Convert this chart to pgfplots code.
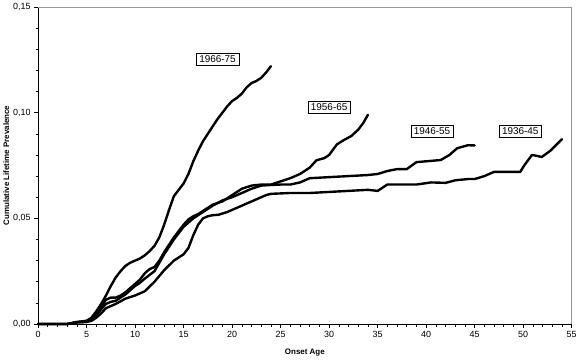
\documentclass[border=0pt]{standalone}
\usepackage{pgfplots}
\pgfplotsset{compat=1.18}
\usepackage{fontspec}
\setmainfont{Liberation Sans}
\begin{document}
\begin{tikzpicture}
\tikzset{curve/.style={black, line width=2.4pt, line join=round, line cap=round}}
\begin{axis}[
  name=main,
  scale only axis,
  width=537pt, height=319pt,
  xmin=0, xmax=55, ymin=0, ymax=0.15,
  xtick={0,5,...,55},
  ytick={0,0.05,0.10,0.15},
  minor x tick num=4,
  minor y tick num=4,
  tick align=outside,
  tick pos=left,
  major tick length=4pt,
  minor tick length=2.5pt,
  tick style={black, line width=0.6pt},
  axis line style={draw=none},
  /pgf/number format/.cd, use comma, fixed, assume math mode=true,
  /pgfplots/.cd,
  yticklabel={\pgfmathprintnumber[fixed, fixed zerofill, precision=2, use comma]{\tick}},
  ticklabel style={font=\fontsize{9}{10}\selectfont},
  xlabel={\textbf{Onset Age}},
  ylabel={\textbf{Cumulative Lifetime Prevalence}},
  label style={font=\fontsize{8}{9}\selectfont},
  xlabel style={at={(axis description cs:0.5,0)}, anchor=center, yshift=-29pt},
  ylabel style={at={(axis description cs:0,0.5)}, anchor=center, rotate=0, yshift=32pt},
  clip=false,
]
\draw[black, line width=0.7pt] (rel axis cs:0,1) -- (rel axis cs:0,0) -- (rel axis cs:1,0);
\draw[gray!80, line width=0.7pt] (rel axis cs:0,1) -- (rel axis cs:1,1) -- (rel axis cs:1,0);
% 1966-75
\addplot[curve] coordinates {
(0,0) (3,0) (4,0.0008) (5,0.0015) (5.5,0.003) (6,0.006) (6.5,0.0095) (7,0.0135) (7.5,0.018) (8,0.022) (8.5,0.025) (9,0.0275) (9.5,0.029) (10,0.030) (10.5,0.031) (11,0.0325) (11.5,0.0345) (12,0.037) (12.5,0.041) (13,0.047) (13.5,0.054) (14,0.0605) (14.5,0.0635) (15,0.0665) (15.5,0.071) (16,0.077) (16.5,0.082) (17,0.0865) (17.5,0.090) (18,0.0935) (18.5,0.097) (19,0.100) (19.5,0.103) (20,0.1055) (20.5,0.107) (21,0.109) (21.5,0.112) (22,0.114) (22.5,0.115) (23,0.1165) (23.5,0.119) (24,0.122)
};
% 1956-65
\addplot[curve] coordinates {
(0,0) (3,0) (4,0.0008) (5,0.001) (5.5,0.002) (6,0.005) (6.5,0.008) (7,0.0115) (7.5,0.0125) (8,0.0125) (8.5,0.0135) (9,0.015) (9.5,0.017) (10,0.019) (10.5,0.021) (11,0.024) (11.5,0.026) (12,0.027) (12.5,0.030) (13,0.034) (13.5,0.0375) (14,0.041) (14.5,0.044) (15,0.047) (15.5,0.0495) (16,0.051) (16.5,0.052) (17,0.0535) (17.5,0.055) (18,0.0565) (19,0.058) (20,0.061) (21,0.064) (22,0.0655) (23,0.066) (24,0.066) (25,0.0675) (26,0.069) (27,0.071) (28,0.074) (28.7,0.0775) (29.5,0.0785) (30,0.080) (30.8,0.085) (31.5,0.087) (32.3,0.089) (33,0.092) (33.5,0.095) (34,0.099)
};
% 1946-55
\addplot[curve] coordinates {
(0,0) (3,0) (4,0.001) (5,0.0015) (5.5,0.002) (6,0.004) (6.5,0.007) (7,0.0095) (7.5,0.0105) (8,0.011) (9,0.014) (10,0.018) (10.5,0.0195) (11,0.0215) (12,0.025) (13,0.033) (14,0.040) (14.5,0.043) (15,0.046) (15.5,0.048) (16,0.050) (17,0.053) (18,0.056) (19,0.0585) (20,0.060) (21,0.062) (22,0.064) (23,0.0655) (24,0.0658) (25,0.066) (26,0.066) (27,0.067) (28,0.069) (30,0.0695) (32,0.070) (34,0.0705) (35,0.071) (36,0.0724) (37,0.0733) (38,0.0733) (39,0.0766) (40,0.077) (41.5,0.0776) (42.4,0.080) (43.2,0.0832) (44.3,0.0846) (45,0.0845)
};
% 1936-45
\addplot[curve] coordinates {
(0,0) (3,0) (4,0.0008) (5,0.001) (5.5,0.0015) (6,0.003) (6.5,0.005) (7,0.0075) (7.5,0.0085) (8,0.0095) (9,0.012) (10,0.0135) (11,0.0155) (12,0.020) (13,0.0255) (14,0.030) (15,0.033) (15.5,0.036) (16,0.042) (16.5,0.047) (17,0.050) (17.5,0.051) (18,0.0515) (18.6,0.0517) (19.5,0.053) (20.5,0.055) (21.5,0.057) (22.5,0.059) (23.5,0.061) (24,0.0616) (26,0.062) (28,0.062) (30,0.0625) (32,0.063) (34,0.0635) (35,0.063) (36,0.066) (38,0.066) (39,0.066) (40.5,0.067) (42,0.0668) (43,0.068) (44.3,0.0686) (45,0.0686) (46,0.070) (47,0.072) (48,0.072) (49.7,0.072) (50.1,0.075) (50.9,0.080) (51.5,0.0795) (51.9,0.079) (52.8,0.082) (54,0.0875)
};
\tikzset{lab/.style={draw=black, line width=0.5pt, fill=white, inner xsep=3pt, inner ysep=2.6pt, font=\fontsize{10}{11}\selectfont}}
\node[lab] at (axis cs:18.5,0.1254) {1966-75};
\node[lab] at (axis cs:30,0.1025) {1956-65};
\node[lab] at (axis cs:40.6,0.0912) {1946-55};
\node[lab] at (axis cs:49.7,0.0912) {1936-45};
\end{axis}
\path[use as bounding box] ([shift={(-38pt,-35pt)}]main.south west) rectangle ([shift={(5pt,4pt)}]main.north east);
\end{tikzpicture}
\end{document}
